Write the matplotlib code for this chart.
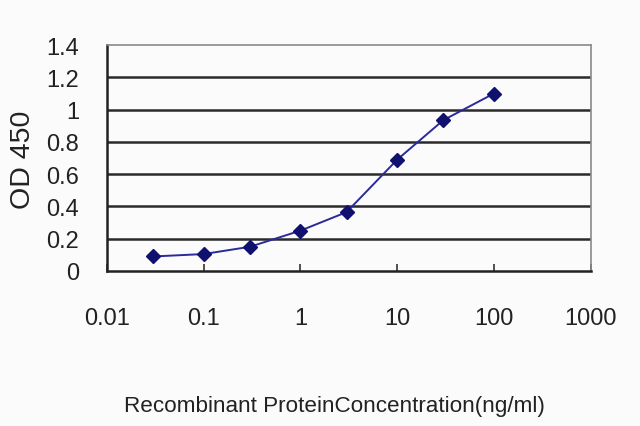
import numpy as np
import matplotlib
matplotlib.use("Agg")
from matplotlib import pyplot as plt
from matplotlib.ticker import FixedLocator, FixedFormatter, NullLocator

conc = [0.03, 0.1, 0.3, 1, 3, 10, 30, 100]
od = [0.09, 0.105, 0.15, 0.25, 0.365, 0.69, 0.935, 1.10]

xticks = [0.01, 0.1, 1, 10, 100, 1000]
xlabels = ["0.01", "0.1", "1", "10", "100", "1000"]
yticks = [0, 0.2, 0.4, 0.6, 0.8, 1, 1.2, 1.4]
ylabels = ["0", "0.2", "0.4", "0.6", "0.8", "1", "1.2", "1.4"]

plt.rcParams['font.family'] = ['Liberation Sans', 'DejaVu Sans']

fig = plt.figure(figsize=(6.4, 4.27), dpi=100, facecolor="#fbfbfb")
ax = fig.add_axes([0.167, 0.363, 0.756, 0.529])
ax.set_facecolor("#fbfbfb")

ax.set_xscale("log")
ax.set_xlim(0.01, 1000)
ax.set_ylim(0, 1.4)

for y in yticks[1:-1]:
    ax.axhline(y, color="#2a2a2a", lw=1.8, zorder=1)

ax.plot(conc, od, color="#2a2a9a", lw=1.4, marker="D", ms=7.5,
        mfc="#10106e", mec="#10106e", zorder=3)

ax.xaxis.set_major_locator(FixedLocator(xticks))
ax.xaxis.set_major_formatter(FixedFormatter(xlabels))
ax.xaxis.set_minor_locator(NullLocator())
ax.yaxis.set_major_locator(FixedLocator(yticks))
ax.yaxis.set_major_formatter(FixedFormatter(ylabels))

ax.tick_params(axis="x", direction="in", length=5, width=1.2, color="#333333",
               labelsize=17, pad=26, labelcolor="#222222")
ax.tick_params(axis="y", length=0, labelsize=17, pad=20, labelcolor="#222222")

for side in ["left", "bottom"]:
    ax.spines[side].set_color("#222222")
    ax.spines[side].set_linewidth(1.8)
for side in ["top", "right"]:
    ax.spines[side].set_color("#8a8a8a")
    ax.spines[side].set_linewidth(1.2)

fig.text(0.036, 0.625, "OD 450", rotation=90, fontsize=20.5, color="#222222",
         ha="center", va="center")
fig.text(0.523, 0.049, "Recombinant ProteinConcentration(ng/ml)", fontsize=16.2,
         color="#222222", ha="center", va="center")

fig.savefig("out.png", dpi=100, facecolor=fig.get_facecolor())
